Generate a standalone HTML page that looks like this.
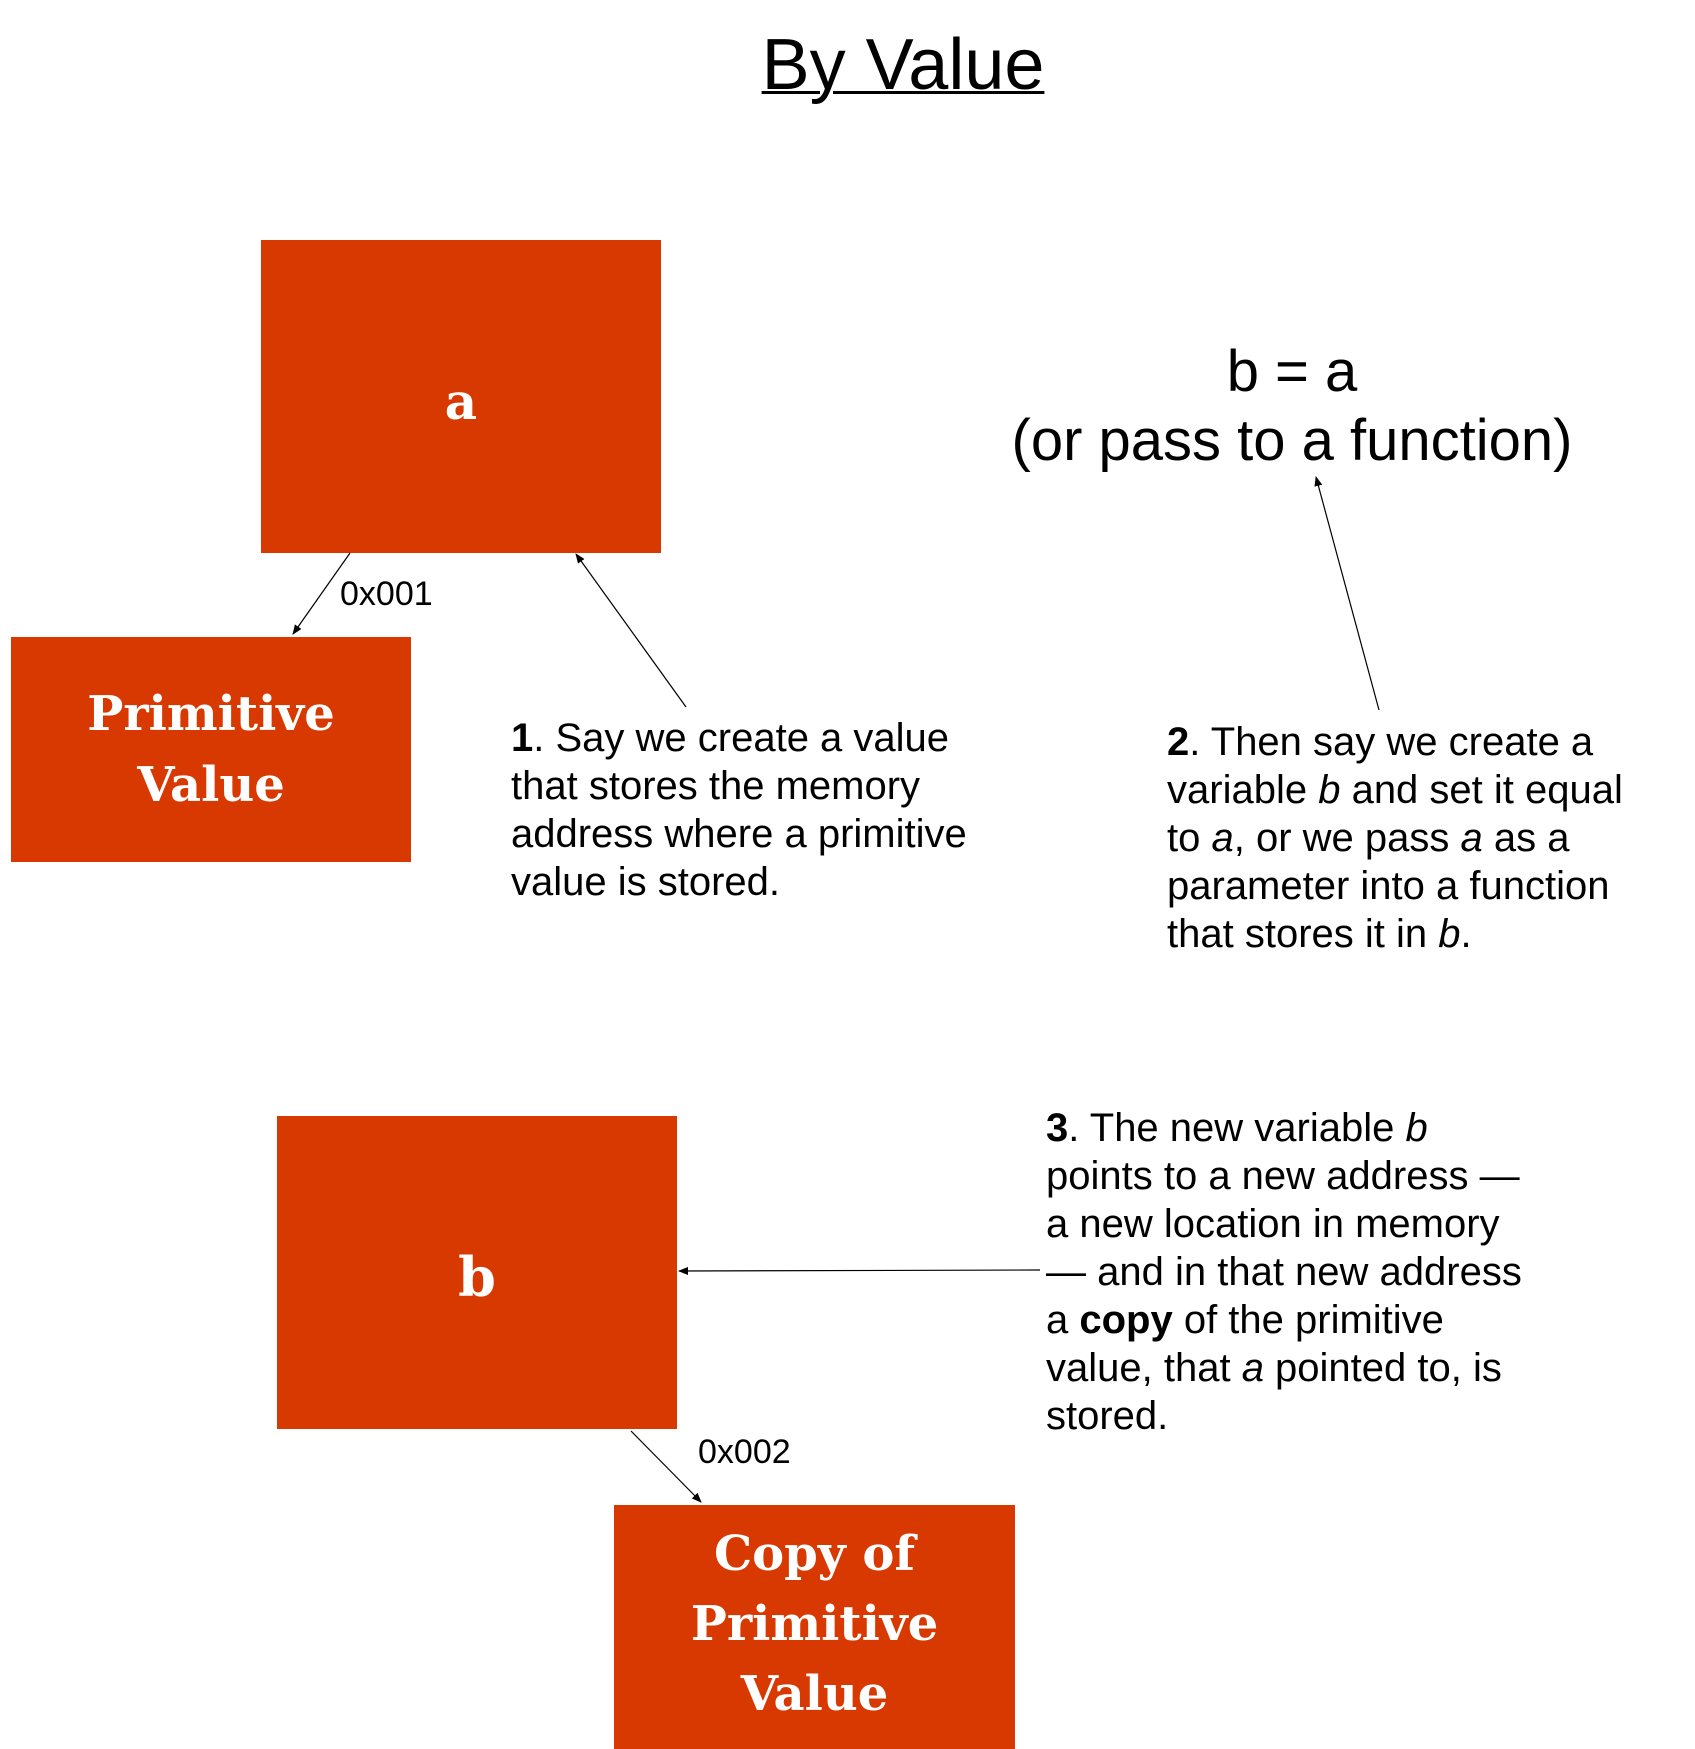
<!DOCTYPE html>
<html><head><meta charset="utf-8"><style>
body{margin:0;width:1695px;height:1749px;background:#fff;position:relative;overflow:hidden;font-family:"Liberation Sans",Arial,sans-serif;color:#000}
.box{position:absolute;background:#d83900;color:#fff;font-family:"DejaVu Serif",serif;font-weight:bold;display:flex;align-items:center;justify-content:center;text-align:center}
.t{position:absolute;white-space:nowrap}
.p{position:absolute;font-size:40px;line-height:48px;white-space:nowrap}
</style></head><body>
<div class="t" style="left:0;width:1806px;text-align:center;top:24px;font-size:72px;text-decoration:underline;text-decoration-thickness:3px">By Value</div>

<div class="box" style="left:261px;top:240px;width:400px;height:313px;font-size:50px;padding-top:10px;box-sizing:border-box">a</div>
<div class="box" style="left:11px;top:637px;width:400px;height:225px;font-size:48px;line-height:71px">Primitive<br>Value</div>
<div class="box" style="left:277px;top:1116px;width:400px;height:313px;font-size:54px;padding-top:8px;box-sizing:border-box">b</div>
<div class="box" style="left:614px;top:1505px;width:401px;height:244px;font-size:48px;line-height:70px;padding-bottom:6px;box-sizing:border-box">Copy of<br>Primitive<br>Value</div>

<div class="t" style="left:991px;width:602px;text-align:center;top:337px;font-size:58px;line-height:69px">b = a<br>(or pass to a function)</div>

<div class="t" style="left:340px;top:575px;font-size:34px">0x001</div>
<div class="t" style="left:698px;top:1433px;font-size:34px">0x002</div>

<div class="p" style="left:511px;top:714px"><b>1</b>. Say we create a value<br>that stores the memory<br>address where a primitive<br>value is stored.</div>
<div class="p" style="left:1167px;top:718px"><b>2</b>. Then say we create a<br>variable <i>b</i> and set it equal<br>to <i>a</i>, or we pass <i>a</i> as a<br>parameter into a function<br>that stores it in <i>b</i>.</div>
<div class="p" style="left:1046px;top:1104px"><b>3</b>. The new variable <i>b</i><br>points to a new address —<br>a new location in memory<br>— and in that new address<br>a <b>copy</b> of the primitive<br>value, that <i>a</i> pointed to, is<br>stored.</div>

<svg width="1695" height="1749" style="position:absolute;left:0;top:0">
<defs><marker id="m" markerWidth="10" markerHeight="8" refX="9" refY="4" orient="auto" markerUnits="userSpaceOnUse"><path d="M0,0 L10,4 L0,8 z" fill="#000"/></marker></defs>
<g stroke="#000" stroke-width="1.2" fill="none" marker-end="url(#m)">
<line x1="350" y1="553" x2="293" y2="634"/>
<line x1="686" y1="707" x2="576" y2="554"/>
<line x1="1379" y1="710" x2="1316" y2="477"/>
<line x1="1040" y1="1270" x2="679" y2="1271"/>
<line x1="631" y1="1431" x2="701" y2="1502"/>
</g></svg>
</body></html>
